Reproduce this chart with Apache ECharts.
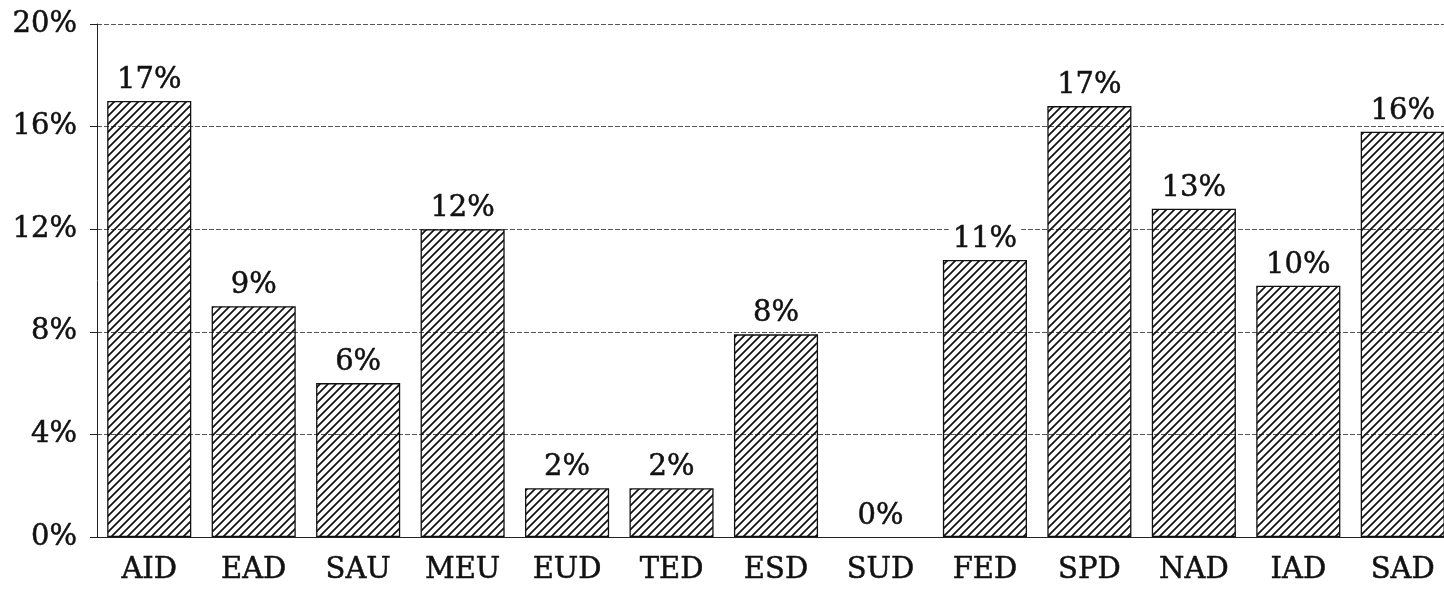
<!DOCTYPE html>
<html>
<head>
<meta charset="utf-8">
<script src="https://cdn.jsdelivr.net/npm/echarts@6/dist/echarts.min.js"></script>
<style>
  html, body { margin: 0; padding: 0; background: #fff; }
  #chart { width: 1444px; height: 589px; }
</style>
</head>
<body>
<div id="chart"></div>
<script>
// categories and bar heights (percent)
const categories = ['AID', 'EAD', 'SAU', 'MEU', 'EUD', 'TED', 'ESD', 'SUD', 'FED', 'SPD', 'NAD', 'IAD', 'SAD']
const values = [17.0, 9.0, 6.0, 12.0, 1.9, 1.9, 7.9, 0, 10.8, 16.8, 12.8, 9.8, 15.8]
const labels = ['17%', '9%', '6%', '12%', '2%', '2%', '8%', '0%', '11%', '17%', '13%', '10%', '16%']
const yTicks = [0, 4, 8, 12, 16, 20]

// diagonal hatch fill
function hatch () {
  const s = 8
  const c = document.createElement('canvas')
  c.width = s
  c.height = s
  const ctx = c.getContext('2d')
  ctx.strokeStyle = '#111'
  ctx.lineWidth = 1.7
  ctx.beginPath()
  ctx.moveTo(-1, s + 1); ctx.lineTo(s + 1, -1)
  ctx.moveTo(-1, 1); ctx.lineTo(1, -1)
  ctx.moveTo(s - 1, s + 1); ctx.lineTo(s + 1, s - 1)
  ctx.stroke()
  return c
}

const font = '"DejaVu Serif", serif'
const txt = { color: '#111', fontFamily: font, fontSize: 29, textBorderColor: '#111', textBorderWidth: 0.5 }

// a zero bar has no outline in the original
const barData = values.map(v => v === 0 ? { value: v, itemStyle: { borderWidth: 0 } } : v)

let myChart = echarts.init(document.getElementById('chart'))
myChart.setOption({
  animation: false,
  grid: { left: 97, top: 24, width: 1358, height: 513, outerBoundsMode: 'none' },
  xAxis: {
    type: 'category',
    data: categories,
    axisLine: { lineStyle: { color: '#222', width: 1.2 } },
    axisTick: { show: false },
    axisLabel: Object.assign({ margin: 19 }, txt)
  },
  yAxis: {
    type: 'value',
    min: yTicks[0],
    max: yTicks[yTicks.length - 1],
    interval: 4,
    axisLine: { show: true, lineStyle: { color: '#222', width: 1 } },
    axisTick: { show: true, length: 7, lineStyle: { color: '#222' } },
    axisLabel: Object.assign({ margin: 20, formatter: '{value}%' }, txt),
    splitLine: { lineStyle: { color: '#555', width: 1, type: [5, 2] } }
  },
  series: [{
    type: 'bar',
    data: barData,
    barCategoryGap: '19.5%',
    itemStyle: {
      color: { image: hatch(), repeat: 'repeat' },
      borderColor: '#111',
      borderWidth: 1.3
    },
    label: Object.assign({
      show: true,
      position: 'top',
      distance: 6,
      backgroundColor: '#fff',
      padding: [0, 4],
      formatter: p => labels[p.dataIndex]
    }, txt)
  }]
})
</script>
</body>
</html>
